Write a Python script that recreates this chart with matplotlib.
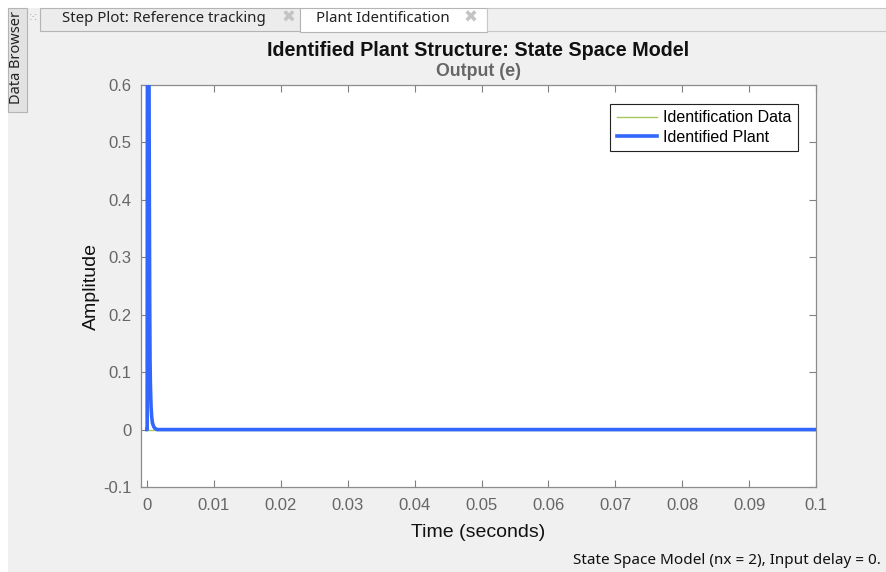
import matplotlib
matplotlib.use("Agg")
import matplotlib.pyplot as plt
from matplotlib.patches import Rectangle

# identified plant response
t_plant = [0, 0.00002, 0.0001, 0.0002, 0.0003, 0.00035, 0.0004, 0.00045, 0.0005,
           0.0006, 0.0007, 0.0008, 0.001, 0.0012, 0.0015, 0.1]
y_plant = [0, 0, 1.4, 0.95, 0.6, 0.38, 0.22, 0.12, 0.08,
           0.04, 0.022, 0.012, 0.005, 0.002, 0, 0]
# identification data sits under the plant curve
t_data = [0, 0.1]
y_data = [0, 0]

xticks = [0, 0.01, 0.02, 0.03, 0.04, 0.05, 0.06, 0.07, 0.08, 0.09, 0.1]
xticklabels = ["0", "0.01", "0.02", "0.03", "0.04", "0.05", "0.06", "0.07", "0.08", "0.09", "0.1"]
yticks = [-0.1, 0, 0.1, 0.2, 0.3, 0.4, 0.5, 0.6]
yticklabels = ["-0.1", "0", "0.1", "0.2", "0.3", "0.4", "0.5", "0.6"]

W, H = 886, 572
fig = plt.figure(figsize=(W / 100, H / 100), dpi=100, facecolor="#f0f0f0")
plt.rcParams["font.family"] = ["Liberation Sans", "DejaVu Sans"]
ui = ["Noto Sans", "DejaVu Sans"]


def px(x, y):
    return x / W, 1 - y / H


def box(x0, y0, x1, y1, fc, ec="none", lw=0.8, z=0):
    fig.patches.append(Rectangle((x0 / W, 1 - y1 / H), (x1 - x0) / W, (y1 - y0) / H,
                                 transform=fig.transFigure, fc=fc, ec=ec, lw=lw, zorder=z))


# window chrome: white margins, tabs, side tab
box(0, 0, W, 8, "white")
box(0, 0, 8, H, "white")
box(40, 8, 300, 31, "#ececec", "#b4b4b4")
box(300, 8, 487, 32, "white", "#b4b4b4")
box(487, 8, W, 31, "#f0f0f0", "#c8c8c8")
box(8, 8, 27, 112, "#e2e2e2", "#b4b4b4")
fig.text(*px(62, 19), "Step Plot: Reference tracking", fontsize=10.8, family=ui,
         va="center", ha="left", color="#222222")
fig.text(*px(289, 18), "\u2716", fontsize=12, va="center", ha="center", color="#c4c4c4",
         family=["DejaVu Sans"])
fig.text(*px(316, 19), "Plant Identification", fontsize=10.8, family=ui,
         va="center", ha="left", color="#222222")
fig.text(*px(471, 18), "\u2716", fontsize=12, va="center", ha="center", color="#c4c4c4",
         family=["DejaVu Sans"])
fig.text(*px(33, 19), "\u2059", fontsize=9, va="center", ha="center", color="#aaaaaa",
         family=["DejaVu Sans"])
fig.text(*px(17, 57), "Data Browser", fontsize=10.5, family=ui, rotation=90,
         va="center", ha="center", color="#222222")

ax = fig.add_axes([141 / W, 1 - 487 / H, 675 / W, 402 / H])
ax.set_facecolor("white")
ax.plot(t_data, y_data, color="#a8c85a", lw=1.0, label="Identification Data", zorder=2)
ax.plot(t_plant, y_plant, color="#3366ff", lw=2.6, label="Identified Plant", zorder=3,
        solid_joinstyle="round")
ax.set_xlim(-0.0009, 0.1)
ax.set_ylim(-0.1, 0.6)
ax.set_xticks(xticks, xticklabels)
ax.set_yticks(yticks, yticklabels)
ax.tick_params(direction="in", top=True, right=True, length=5, width=0.8,
               color="#808080", labelcolor="#666666", labelsize=12, pad=8)
ax.tick_params(axis="y", pad=7)
for s in ax.spines.values():
    s.set_color("#8c8c8c")
    s.set_linewidth(0.9)

ax.set_xlabel("Time (seconds)", fontsize=14, color="#111111", labelpad=8)
ax.set_ylabel("Amplitude", fontsize=14, color="#111111", labelpad=2)

leg = ax.legend(loc="upper right", bbox_to_anchor=(0.973, 0.953), borderaxespad=0,
                fontsize=11.5, fancybox=False, framealpha=1, edgecolor="#222222",
                handlelength=2.5, handletextpad=0.4, borderpad=0.4, labelspacing=0.3)
leg.get_frame().set_linewidth(0.8)

fig.text(*px(478, 50), "Identified Plant Structure: State Space Model", fontsize=14.2,
         fontweight="bold", ha="center", va="center", color="#111111")
fig.text(*px(479, 72), "Output (e)", fontsize=12.8, fontweight="bold",
         ha="center", va="center", color="#666666")
fig.text(*px(881, 561), "State Space Model (nx = 2), Input delay = 0.", fontsize=11,
         family=ui, ha="right", va="center", color="#111111")

fig.savefig("out.png", dpi=100, facecolor=fig.get_facecolor())
